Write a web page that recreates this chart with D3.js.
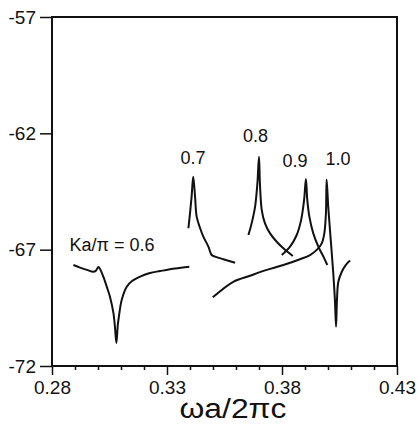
<!DOCTYPE html>
<html>
<head>
<meta charset="utf-8">
<script src="https://cdn.jsdelivr.net/npm/d3@7"></script>
<style>
  body { margin: 0; background: #fff; }
  text { font-family: "Liberation Sans", Arial, sans-serif; fill: #111; }
</style>
</head>
<body>
<div id="chart"></div>
<script>
var canvasWidth = 417;
var canvasHeight = 426;

/* axis ticks */
var xTicks = [0.28, 0.33, 0.38, 0.43];
var xMinorTicks = [0.29, 0.30, 0.31, 0.32, 0.34, 0.35, 0.36, 0.37, 0.39, 0.40, 0.41, 0.42];
var yTicks = [-57, -62, -67, -72];

/* curves, one per Ka/pi value: frequency (wa/2pic) and level */
var freq06 = [0.2893, 0.2922, 0.2952, 0.2980, 0.2991, 0.3002, 0.3023, 0.3038, 0.3052, 0.3067, 0.3073, 0.3080, 0.3086, 0.3090, 0.3103, 0.3125, 0.3148, 0.3183, 0.3226, 0.3270, 0.3335, 0.3397];
var level06 = [-67.66, -67.77, -67.87, -67.95, -67.90, -67.75, -68.16, -68.59, -69.02, -69.72, -70.24, -71.01, -70.24, -69.94, -69.16, -68.59, -68.35, -68.16, -68.00, -67.92, -67.81, -67.73];

var freq07 = [0.3393, 0.3400, 0.3407, 0.3414, 0.3422, 0.3429, 0.3444, 0.3458, 0.3480, 0.3494, 0.3509, 0.3545, 0.3596];
var level07 = [-66.08, -65.44, -64.72, -63.87, -64.72, -65.58, -66.08, -66.44, -66.87, -67.23, -67.30, -67.41, -67.56];

var freq08 = [0.3654, 0.3668, 0.3683, 0.3693, 0.3700, 0.3704, 0.3712, 0.3726, 0.3748, 0.3777, 0.3806, 0.3847];
var level08 = [-66.37, -65.87, -65.15, -64.15, -63.01, -64.15, -65.30, -65.87, -66.30, -66.66, -66.94, -67.27];

var freq09 = [0.3799, 0.3835, 0.3864, 0.3883, 0.3896, 0.3904, 0.3910, 0.3919, 0.3936, 0.3958, 0.3980, 0.3997];
var level09 = [-67.23, -66.87, -66.37, -65.73, -64.87, -63.96, -64.87, -65.58, -66.30, -66.87, -67.30, -67.66];

var freq10 = [0.3499, 0.3588, 0.3661, 0.3734, 0.3806, 0.3878, 0.3922, 0.3951, 0.3973, 0.3984, 0.3991, 0.3994, 0.4001, 0.4012, 0.4023, 0.4030, 0.4035, 0.4039, 0.4045, 0.4060, 0.4077, 0.4096];
var level10 = [-69.05, -68.38, -68.12, -67.87, -67.66, -67.41, -67.23, -67.01, -66.73, -66.30, -65.44, -63.98, -65.15, -66.59, -68.02, -69.16, -70.31, -69.16, -68.38, -67.95, -67.66, -67.47];

/* curve labels */
var labelText = ["Ka/\u03c0 = 0.6", "0.7", "0.8", "0.9", "1.0"];
var labelX = [0.3061, 0.3413, 0.3685, 0.3857, 0.4044];
var labelY = [-67.05, -63.30, -62.36, -63.44, -63.36];

var freqs = [freq06, freq07, freq08, freq09, freq10];
var levels = [level06, level07, level08, level09, level10];
var curves = freqs.map(function(f, i) {
    return f.map(function(v, j) { return {x: v, y: levels[i][j]}; });
});

var svg = d3.select("#chart")
    .append("svg")
    .attr("width", canvasWidth)
    .attr("height", canvasHeight);

var plotLeft = 52, plotRight = 397, plotTop = 17, plotBottom = 366;

/* scales */
var xScale = d3.scaleLinear().domain([0.28, 0.43]).range([plotLeft, plotRight]);
var yScale = d3.scaleLinear().domain([-72, -57]).range([plotBottom, plotTop]);

/* minor x ticks */
svg.append("g")
    .attr("transform", "translate(0," + plotBottom + ")")
    .call(d3.axisBottom(xScale).tickValues(xMinorTicks).tickSize(4).tickFormat(""))
    .call(function(g) { g.select(".domain").remove(); })
    .selectAll("line").attr("stroke", "#111").attr("stroke-width", 1.5);

/* X axis */
var xAxis = svg.append("g")
    .attr("transform", "translate(0," + plotBottom + ")")
    .call(d3.axisBottom(xScale).tickValues(xTicks).tickSize(9).tickPadding(6)
        .tickFormat(d3.format(".2f")));
xAxis.attr("font-size", 19).attr("font-family", null);
xAxis.select(".domain").remove();
xAxis.selectAll("line").attr("stroke", "#111").attr("stroke-width", 1.5);
xAxis.selectAll("text").attr("fill", "#111");

/* Y axis */
var yAxis = svg.append("g")
    .attr("transform", "translate(" + plotLeft + ",0)")
    .call(d3.axisLeft(yScale).tickValues(yTicks).tickSize(12).tickPadding(4)
        .tickFormat(function(d) { return String(d); }));
yAxis.attr("font-size", 19).attr("font-family", null);
yAxis.select(".domain").remove();
yAxis.selectAll("line").attr("stroke", "#111").attr("stroke-width", 1.5);
yAxis.selectAll("text").attr("fill", "#111");

/* frame */
svg.append("rect")
    .attr("x", plotLeft)
    .attr("y", plotTop)
    .attr("width", plotRight - plotLeft)
    .attr("height", plotBottom - plotTop)
    .attr("fill", "none")
    .attr("stroke", "#111")
    .attr("stroke-width", 2);

/* curves */
var line = d3.line()
    .curve(d3.curveCatmullRom.alpha(0.5))
    .x(function(d) { return xScale(d.x); })
    .y(function(d) { return yScale(d.y); });

svg.append("g")
    .selectAll(".line")
    .data(curves)
    .join("path")
    .attr("class", "line")
    .attr("fill", "none")
    .attr("stroke", "#111")
    .attr("stroke-width", 2)
    .attr("stroke-linejoin", "round")
    .attr("d", line);

/* curve labels */
svg.append("g")
    .selectAll(".label")
    .data(labelText)
    .join("text")
    .attr("class", "label")
    .attr("x", function(d, i) { return xScale(labelX[i]); })
    .attr("y", function(d, i) { return yScale(labelY[i]); })
    .attr("text-anchor", "middle")
    .attr("font-size", 18)
    .text(function(d) { return d; });

/* x axis title */
svg.append("text")
    .attr("x", 233)
    .attr("y", 418)
    .attr("text-anchor", "middle")
    .attr("textLength", 107)
    .attr("lengthAdjust", "spacingAndGlyphs")
    .attr("font-size", 27)
    .text("\u03c9a/2\u03c0c");
</script>
</body>
</html>
